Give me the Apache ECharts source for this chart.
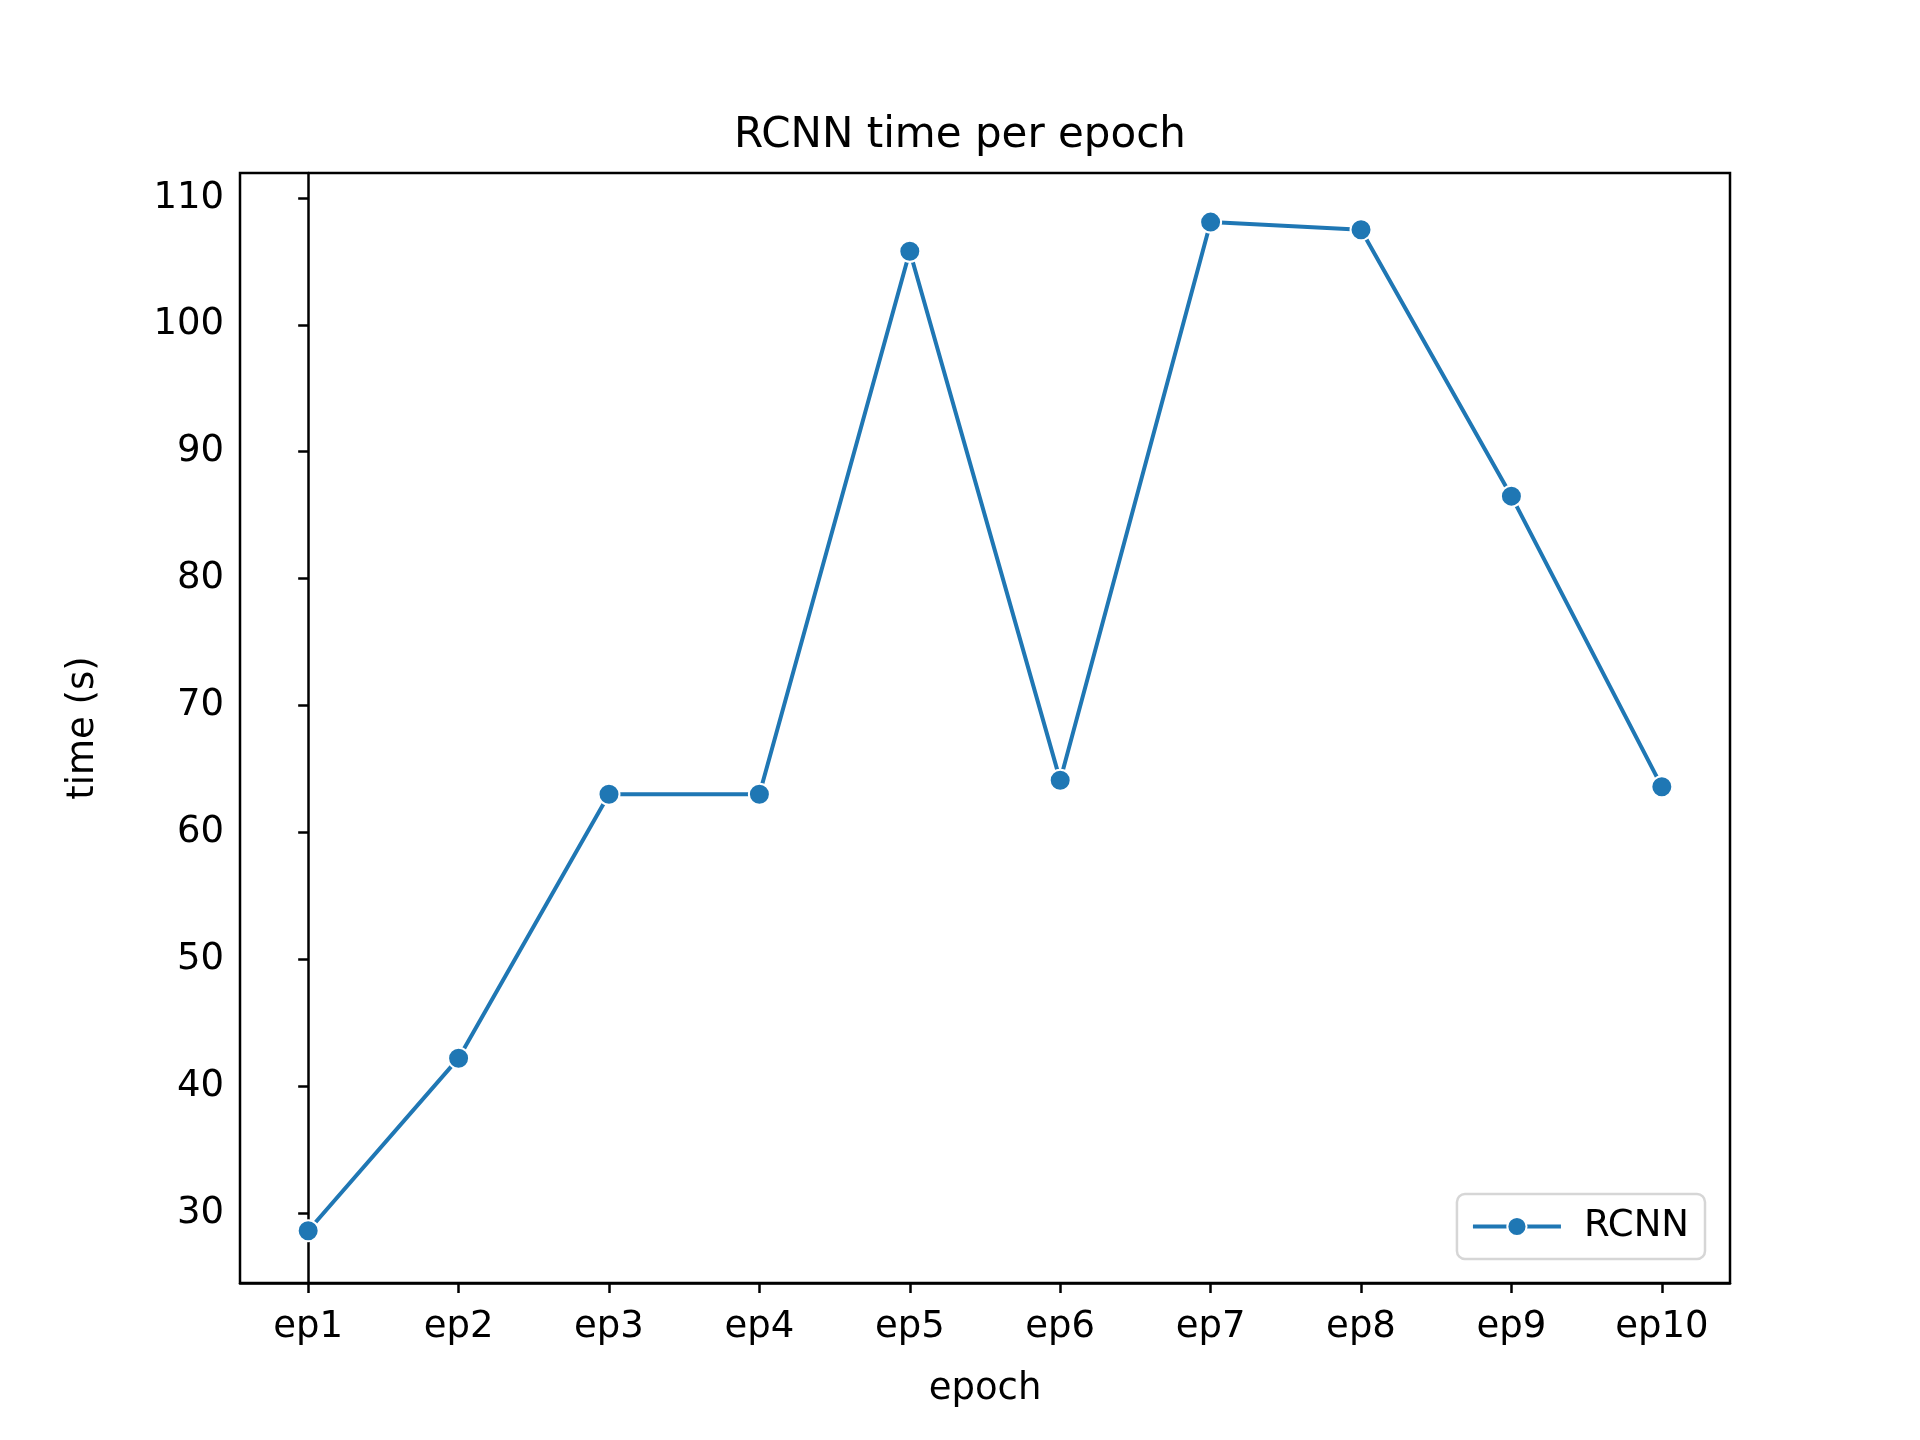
<!DOCTYPE html>
<html>
<head>
<meta charset="utf-8">
<script src="https://cdn.jsdelivr.net/npm/echarts@6/dist/echarts.min.js"></script>
<style>
  html, body { margin: 0; padding: 0; background: #fff; }
  #main { width: 1920px; height: 1440px; }
</style>
</head>
<body>
<div id="main"></div>
<script>
    var epochs = ['ep1', 'ep2', 'ep3', 'ep4', 'ep5', 'ep6', 'ep7', 'ep8', 'ep9', 'ep10'];
    var rcnnTimes = [28.6, 42.2, 63.0, 63.0, 105.8, 64.1, 108.1, 107.5, 86.5, 63.6];
    var yTicks = [30, 40, 50, 60, 70, 80, 90, 100, 110];
    var xTicks = [0, 1, 2, 3, 4, 5, 6, 7, 8, 9];

    var points = [];
    for (var i = 0; i < rcnnTimes.length; i++) {
        points.push([i, rcnnTimes[i]]);
    }

    var font = 'DejaVu Sans';
    var chart = echarts.init(document.getElementById('main'));
    chart.setOption({
        backgroundColor: '#ffffff',
        animation: false,
        title: {
            text: 'RCNN time per epoch',
            left: 'center',
            top: 110,
            textStyle: { fontFamily: font, fontSize: 42, fontWeight: 'normal', color: '#000' }
        },
        grid: { left: 240, right: 190, top: 173, bottom: 157 },
        legend: {
            data: ['RCNN'],
            right: 215,
            bottom: 181,
            orient: 'vertical',
            itemWidth: 88,
            itemHeight: 24,
            padding: [14, 16, 14, 14],
            borderColor: '#d6d6d6',
            borderWidth: 2.5,
            borderRadius: 8,
            backgroundColor: '#fff',
            lineStyle: { width: 4 },
            textStyle: { fontFamily: font, fontSize: 37, color: '#000', padding: [0, 0, 0, 18] }
        },
        xAxis: {
            type: 'value',
            min: -0.4533,
            max: 9.4533,
            name: 'epoch',
            nameLocation: 'middle',
            nameGap: 88,
            nameTextStyle: { fontFamily: font, fontSize: 37, color: '#000' },
            axisLine: { lineStyle: { color: '#000', width: 2.5 } },
            axisTick: { length: 10, customValues: xTicks, lineStyle: { color: '#000', width: 2.5 } },
            axisLabel: {
                fontFamily: font, fontSize: 37, color: '#000', margin: 26,
                customValues: xTicks,
                formatter: function (v) { return epochs[Math.round(v)]; }
            },
            splitLine: { show: false }
        },
        yAxis: {
            type: 'value',
            min: 24.48,
            max: 111.97,
            name: 'time (s)',
            nameLocation: 'middle',
            nameGap: 138,
            nameTextStyle: { fontFamily: font, fontSize: 37, color: '#000' },
            axisLine: { show: true, lineStyle: { color: '#000', width: 2.5 } },
            axisTick: { show: true, length: 10, customValues: yTicks, lineStyle: { color: '#000', width: 2.5 } },
            axisLabel: { fontFamily: font, fontSize: 37, color: '#000', margin: 16, customValues: yTicks },
            splitLine: { show: false }
        },
        series: [{
            name: 'RCNN',
            type: 'line',
            data: points,
            symbol: 'circle',
            symbolSize: 21,
            lineStyle: { color: '#1f77b4', width: 4 },
            itemStyle: { color: '#1f77b4', borderColor: '#fff', borderWidth: 2 }
        }],
        graphic: [{
            type: 'rect',
            shape: { x: 240, y: 173, width: 1920 - 240 - 190, height: 1440 - 173 - 157 },
            style: { fill: null, stroke: '#000', lineWidth: 2.5 },
            silent: true,
            z: -1
        }]
    });
</script>
</body>
</html>
